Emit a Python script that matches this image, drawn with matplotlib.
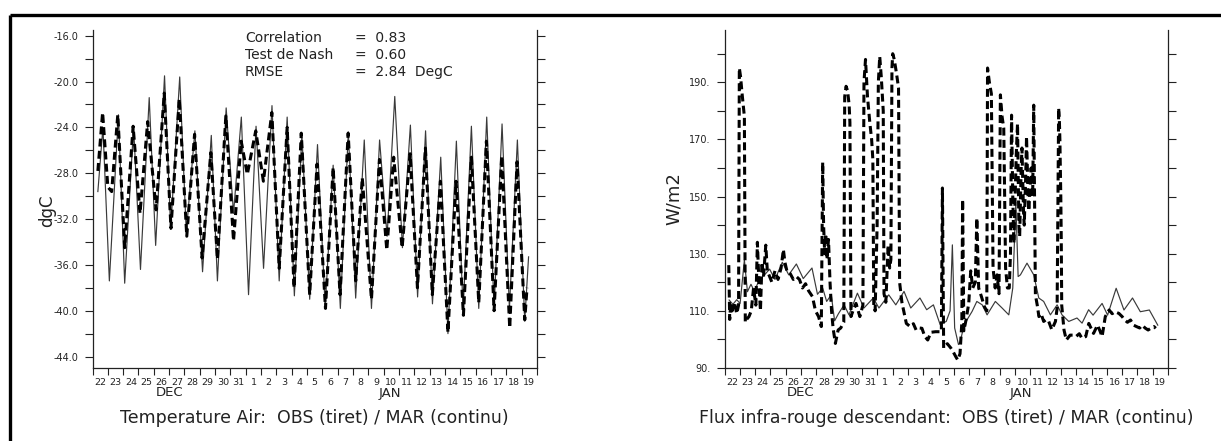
import matplotlib
matplotlib.use("Agg")
import matplotlib.pyplot as plt
from matplotlib.lines import Line2D
from matplotlib.transforms import blended_transform_factory
import numpy as np

plt.rcParams['font.family'] = ['DejaVu Sans']

# ---------------- data (time in days since 22 Dec 00h) ----------------
day_labels = ['22', '23', '24', '25', '26', '27', '28', '29', '30', '31',
              '1', '2', '3', '4', '5', '6', '7', '8', '9', '10',
              '11', '12', '13', '14', '15', '16', '17', '18', '19']
month_labels = ['DEC', 'JAN']
month_pos = [5.0, 19.4]

# Temperature - MAR (solid)
t_air_mar = [0.35, 0.68, 1.1, 1.69, 2.1, 2.68, 3.13, 3.7, 4.12, 4.7,
             5.1, 5.69, 6.12, 6.68, 7.18, 7.75, 8.15, 8.72, 9.2, 9.71,
             10.18, 10.67, 11.16, 11.71, 12.18, 12.7, 13.17, 13.66, 14.17, 14.68,
             15.18, 15.7, 16.17, 16.69, 17.17, 17.73, 18.2, 18.73, 19.22, 19.72,
             20.22, 20.74, 21.21, 21.73, 22.18, 22.72, 23.19, 23.74, 24.18, 24.72,
             25.2, 25.72, 26.2, 26.72, 27.2, 27.72, 28.2, 28.45]
v_air_mar = [-29.6, -24.0, -37.4, -22.9, -37.6, -23.9, -36.4, -21.4, -34.3, -19.5,
             -32.9, -19.6, -33.2, -24.3, -36.6, -24.7, -37.4, -22.3, -31.5, -23.1,
             -38.6, -23.9, -36.3, -22.1, -37.4, -23.1, -38.7, -24.6, -39.0, -25.5,
             -39.7, -27.3, -39.8, -24.4, -38.9, -25.1, -39.8, -25.1, -33.5, -21.3,
             -34.5, -23.8, -38.8, -24.3, -39.4, -26.6, -42.0, -25.2, -40.0, -23.9,
             -39.8, -23.1, -39.8, -23.7, -39.8, -25.1, -40.9, -35.3]

# Temperature - OBS (dashed)
t_air_obs = [0.35, 0.66, 1.0, 1.25, 1.65, 2.1, 2.65, 3.1, 3.6, 4.15,
             4.68, 5.12, 5.66, 6.15, 6.66, 7.15, 7.72, 8.15, 8.7, 9.2,
             9.7, 10.1, 10.65, 11.15, 11.7, 12.18, 12.7, 13.15, 13.62, 14.17,
             14.65, 15.2, 15.7, 16.15, 16.68, 17.17, 17.6, 18.2, 18.72, 19.2,
             19.65, 20.2, 20.72, 21.2, 21.72, 22.17, 22.7, 23.19, 23.72, 24.2,
             24.72, 25.2, 25.7, 26.2, 26.7, 27.22, 27.7, 28.2, 28.35]
v_air_obs = [-27.8, -22.7, -29.2, -29.6, -22.9, -34.5, -23.9, -31.5, -23.5, -31.2,
             -21.0, -32.8, -21.5, -33.5, -24.6, -35.4, -26.2, -35.5, -23.0, -33.9,
             -25.2, -28.1, -24.3, -28.7, -22.7, -36.3, -24.0, -38.0, -24.5, -38.6,
             -27.2, -39.8, -27.5, -38.6, -24.5, -37.4, -28.4, -39.0, -26.8, -34.7,
             -26.6, -34.5, -26.3, -38.0, -25.8, -38.6, -28.7, -41.9, -28.7, -40.4,
             -26.6, -39.3, -25.2, -40.0, -26.5, -41.5, -27.0, -40.8, -38.0]

# Longwave down - MAR (solid)
t_lw_mar = [0.3, 0.55, 0.8, 1.02, 1.3, 1.5, 1.73, 1.95, 2.27, 2.6,
            2.95, 3.3, 3.78, 4.2, 4.7, 5.15, 5.72, 6.08, 6.42, 6.68,
            6.98, 7.2, 7.45, 7.82, 8.14, 8.69, 9.12, 9.73, 10.1, 10.74,
            11.2, 11.74, 12.18, 12.78, 13.22, 13.66, 14.1, 14.5, 14.75, 14.9,
            15.05, 15.3, 15.42, 15.67, 16.19, 16.5, 16.85, 17.17, 17.71, 18.15,
            18.59, 18.85, 19.05, 19.2, 19.35, 19.78, 20.22, 20.55, 20.87, 21.31,
            21.75, 22.07, 22.51, 23.05, 23.38, 23.81, 24.1, 24.69, 25.05, 25.61,
            26.12, 26.68, 27.19, 27.78, 28.33]
v_lw_mar = [113.8, 112.3, 113.9, 112.6, 127.8, 116.7, 119.3, 116.9, 120.8, 122.5,
            124.6, 121.0, 127.0, 122.6, 126.4, 121.3, 125.0, 115.8, 118.0, 113.3,
            115.6, 106.5, 109.0, 112.1, 108.6, 116.2, 111.0, 114.5, 111.0, 115.6,
            112.1, 116.8, 111.0, 114.5, 110.4, 112.1, 105.2, 106.3, 110.0, 133.1,
            104.0, 98.2, 99.3, 105.2, 109.8, 113.3, 112.1, 108.6, 113.3, 111.0,
            108.6, 118.0, 148.0, 122.0, 122.6, 126.7, 122.6, 114.5, 113.3, 108.6,
            112.1, 108.6, 106.3, 107.5, 105.7, 110.4, 108.5, 112.6, 108.5, 117.9,
            110.3, 114.5, 109.7, 110.3, 105.0]

# Longwave down - OBS (dashed)
t_lw_obs = [0.28, 0.34, 0.4, 0.5, 0.65, 0.8, 0.92, 0.97, 1.05, 1.15,
            1.3, 1.36, 1.45, 1.6, 1.75, 1.9, 2.05, 2.15, 2.25, 2.35,
            2.45, 2.55, 2.7, 2.8, 2.95, 3.1, 3.3, 3.5, 3.7, 3.85,
            3.95, 4.1, 4.3, 4.5, 4.7, 4.9, 5.1, 5.3, 5.5, 5.75,
            5.95, 6.15, 6.33, 6.42, 6.48, 6.55, 6.62, 6.7, 6.8, 6.9,
            7.0, 7.1, 7.25, 7.43, 7.6, 7.8, 7.86, 7.95, 8.05, 8.15,
            8.2, 8.27, 8.4, 8.6, 8.85, 9.05, 9.12, 9.22, 9.35, 9.5,
            9.62, 9.7, 9.76, 9.85, 9.98, 10.06, 10.15, 10.25, 10.38, 10.43,
            10.55, 10.7, 10.8, 10.88, 10.95, 11.0, 11.1, 11.25, 11.38, 11.45,
            11.6, 11.76, 11.89, 12.14, 12.35, 12.53, 12.75, 12.91, 13.1, 13.29,
            13.5, 13.8, 14.18, 14.25, 14.33, 14.57, 14.8, 14.95, 15.12, 15.25,
            15.4, 15.52, 15.57, 15.65, 15.8, 15.97, 16.1, 16.23, 16.4, 16.5,
            16.62, 16.8, 17.0, 17.15, 17.2, 17.32, 17.45, 17.56, 17.7, 17.82,
            17.95, 18.04, 18.15, 18.26, 18.38, 18.5, 18.62, 18.7, 18.77, 18.85,
            18.92, 19.0, 19.08, 19.16, 19.25, 19.3, 19.4, 19.45, 19.55, 19.6,
            19.7, 19.75, 19.85, 19.9, 20.0, 20.05, 20.15, 20.22, 20.33, 20.45,
            20.56, 20.7, 20.87, 21.05, 21.2, 21.4, 21.64, 21.75, 21.85, 21.9,
            21.93, 21.96, 21.99, 22.02, 22.05, 22.2, 22.35, 22.6, 22.8, 22.98,
            23.2, 23.37, 23.62, 23.82, 24.13, 24.39, 24.55, 24.69, 24.9, 25.15,
            25.35, 25.53, 25.79, 26.0, 26.17, 26.35, 26.55, 26.75, 26.94, 27.15,
            27.32, 27.5, 27.7, 27.9, 28.08, 28.2]
v_lw_obs = [126.0, 107.0, 112.0, 110.0, 113.0, 109.0, 112.0, 195.0, 192.0, 186.0,
            178.0, 106.0, 107.0, 108.0, 110.0, 118.0, 112.0, 134.0, 120.0, 110.0,
            127.0, 122.0, 133.0, 124.0, 122.0, 120.0, 124.0, 121.0, 125.0, 131.5,
            127.0, 123.5, 123.0, 121.0, 122.0, 121.0, 118.0, 119.5, 117.0, 115.0,
            110.0, 108.0, 104.5, 162.0, 140.0, 130.0, 137.0, 128.0, 135.0, 120.0,
            110.0, 104.0, 98.6, 103.3, 104.0, 106.0, 185.0, 188.6, 187.0, 182.0,
            176.0, 108.0, 110.0, 112.6, 108.0, 112.0, 190.0, 198.0, 185.0, 176.0,
            170.0, 163.0, 112.0, 110.0, 140.0, 190.0, 199.0, 192.0, 180.0, 116.0,
            113.0, 133.0, 125.0, 128.0, 195.0, 200.0, 198.0, 193.0, 188.0, 120.0,
            113.0, 109.0, 105.6, 104.5, 105.5, 103.3, 104.0, 103.9, 101.0, 99.8,
            102.5, 102.7, 102.7, 153.0, 97.0, 98.5, 97.0, 95.7, 94.0, 92.8,
            95.0, 106.0, 149.0, 103.0, 107.0, 112.6, 124.0, 118.0, 120.0, 142.5,
            118.0, 115.0, 111.4, 110.0, 195.0, 190.0, 186.0, 125.0, 118.0, 122.6,
            116.0, 185.6, 178.0, 174.0, 125.0, 118.0, 118.0, 130.0, 178.5, 150.0,
            133.6, 150.0, 165.0, 175.5, 140.0, 136.0, 160.0, 167.0, 145.0, 140.0,
            158.0, 171.0, 150.0, 145.0, 155.0, 160.0, 150.0, 182.0, 115.6, 112.0,
            108.0, 109.0, 106.3, 107.0, 106.3, 103.4, 106.3, 111.0, 181.0, 176.0,
            170.0, 160.0, 150.0, 135.0, 112.0, 103.3, 99.8, 101.5, 101.5, 101.0,
            102.0, 100.4, 101.0, 105.6, 102.1, 105.0, 103.0, 101.0, 108.0, 110.3,
            109.0, 109.7, 109.1, 108.0, 106.8, 106.0, 106.8, 105.0, 104.5, 104.0,
            105.0, 104.0, 103.3, 104.0, 104.5, 103.9]

stats_names = ['Correlation', 'Test de Nash', 'RMSE']
stats_values = ['=  0.83', '=  0.60', '=  2.84  DegC']

# ---------------- figure ----------------
W, H = 1221, 441
fig = plt.figure(figsize=(W / 100, H / 100), dpi=100)
fig.patch.set_facecolor('white')
INK = '#222222'


def px_rect(x0, x1, ytop, ybot):
    return [x0 / W, 1 - ybot / H, (x1 - x0) / W, (ybot - ytop) / H]


ax1 = fig.add_axes(px_rect(92.5, 537, 30, 368))
ax2 = fig.add_axes(px_rect(724.5, 1168, 30, 368))

# page frame (top and left)
fig.add_artist(Line2D([10 / W, 1.0], [1 - 15 / H, 1 - 15 / H], transform=fig.transFigure,
                      color='black', lw=2.4, solid_capstyle='butt'))
fig.add_artist(Line2D([10 / W, 10 / W], [0.0, 1 - 15 / H], transform=fig.transFigure,
                      color='black', lw=2.4, solid_capstyle='butt'))


def style_axes(ax, ylim, major, minor, fmt, title, ylabel_px, ylabel, ylabel_fs):
    ax.set_xlim(0, 29)
    ax.set_ylim(*ylim)
    for s in ['left', 'right', 'bottom']:
        ax.spines[s].set_linewidth(0.9)
        ax.spines[s].set_color(INK)
    ax.spines['top'].set_visible(False)
    ax.set_yticks(major)
    ax.set_yticklabels([fmt(v) for v in major])
    ax.set_yticks(minor, minor=True)
    ax.tick_params(axis='y', which='both', direction='out', length=6, width=0.8,
                   left=True, right=True, labelright=False, labelsize=7, pad=4,
                   colors=INK)
    ax.set_xticks(np.arange(0, 30))
    ax.set_xticklabels([])
    ax.set_xticks(np.arange(29) + 0.5, minor=True)
    ax.set_xticklabels(day_labels, minor=True)
    ax.tick_params(axis='x', which='major', direction='out', length=5, width=0.8,
                   colors=INK)
    ax.tick_params(axis='x', which='minor', length=0, labelsize=6.8, pad=7,
                   colors=INK)
    tr = blended_transform_factory(ax.transData, ax.transAxes)
    hpx = 338.0
    for lab, pos in zip(month_labels, month_pos):
        ax.text(pos, -25 / hpx, lab, transform=tr, ha='center', va='center',
                fontsize=9.5, color=INK)
    ax.text(0.5, -50 / hpx, title, transform=ax.transAxes, ha='center', va='center',
            fontsize=12.5, color=INK)
    fig.text(ylabel_px[0] / W, 1 - ylabel_px[1] / H, ylabel, rotation=90,
             ha='center', va='center', fontsize=ylabel_fs, color=INK)


style_axes(ax1, (-45, -15.5), np.arange(-16, -45, -4), np.arange(-16, -45, -2),
           lambda v: '%.1f' % v,
           'Temperature Air:  OBS (tiret) / MAR (continu)', (47, 211), 'dgC', 12)
style_axes(ax2, (90, 208.3), np.arange(90, 200, 20), np.arange(90, 201, 10),
           lambda v: '%d.' % v,
           'Flux infra-rouge descendant:  OBS (tiret) / MAR (continu)', (674, 199), 'W/m2', 13)

for ax, tm, vm, to, vo in [(ax1, t_air_mar, v_air_mar, t_air_obs, v_air_obs),
                           (ax2, t_lw_mar, v_lw_mar, t_lw_obs, v_lw_obs)]:
    ax.plot(tm, vm, color='#3a3a3a', lw=0.85, solid_joinstyle='round')
    ln, = ax.plot(to, vo, color='black', lw=2.2, solid_capstyle='butt')
    ln.set_dashes((2.6, 1.4))

# statistics text
for i, (nm, val) in enumerate(zip(stats_names, stats_values)):
    y = 1 - (38 + 17 * i) / H
    fig.text(245 / W, y, nm, ha='left', va='center', fontsize=10, color=INK)
    fig.text(355 / W, y, val, ha='left', va='center', fontsize=10, color=INK)

fig.savefig('out.png', dpi=100, facecolor='white')
